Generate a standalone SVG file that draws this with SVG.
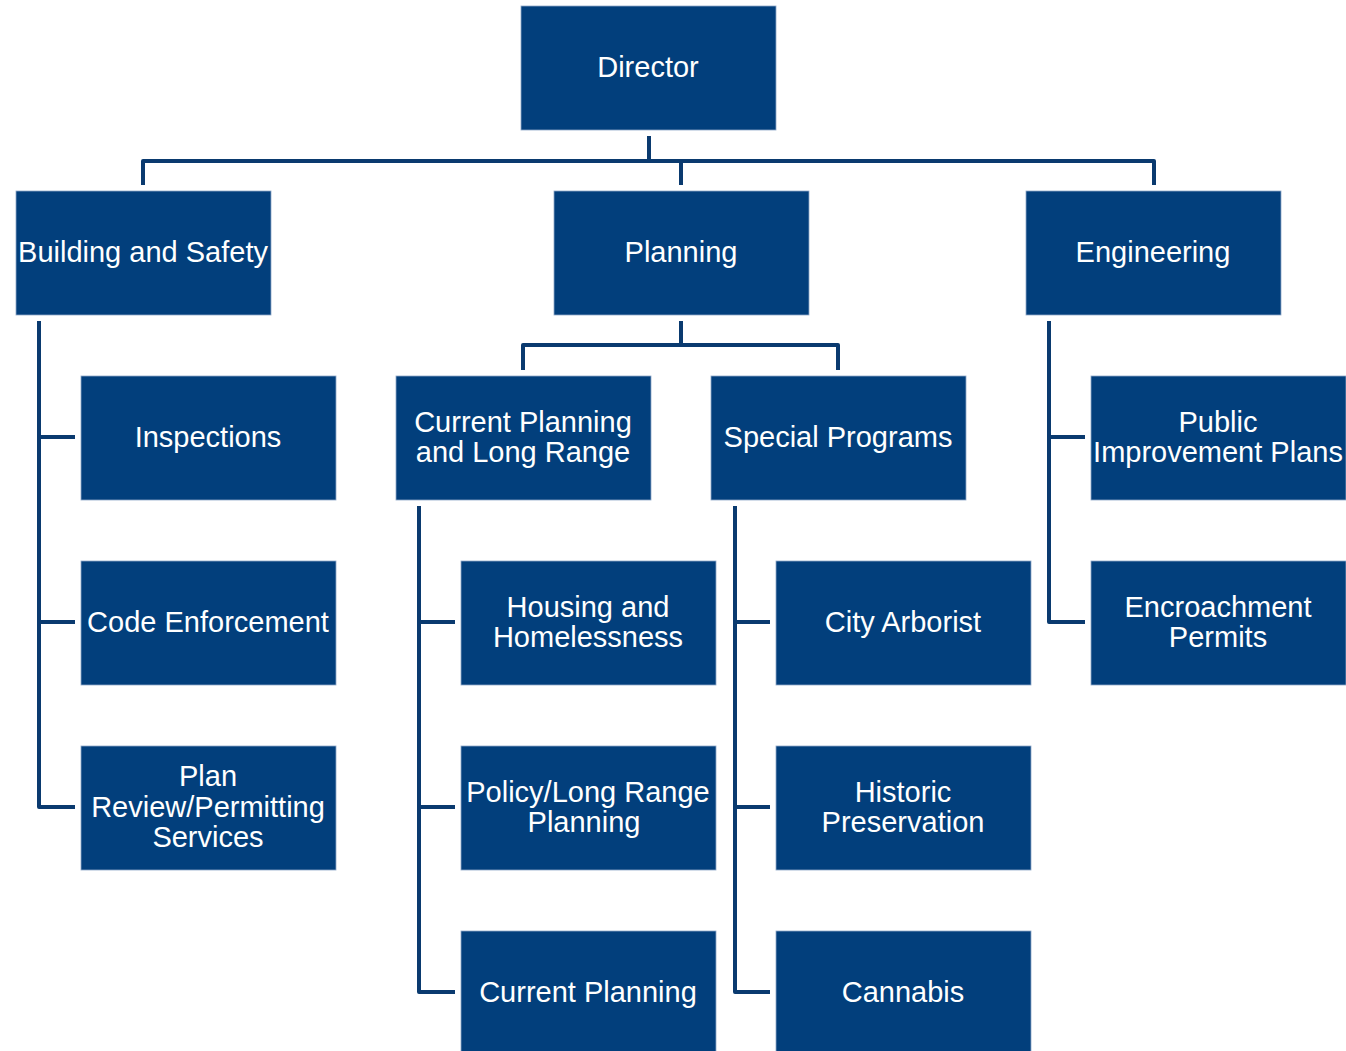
<svg xmlns="http://www.w3.org/2000/svg" width="1346" height="1051" viewBox="0 0 1346 1051">
<style>
.box{fill:#023f7c;stroke:#8fa9c8;stroke-width:0.8}
.t{font-family:"Liberation Sans",Arial,sans-serif;font-size:29px;fill:#ffffff;text-anchor:middle}
.c{fill:none;stroke:#0a3a6f;stroke-width:4;stroke-linejoin:round;stroke-linecap:butt}
</style>
<rect width="1346" height="1051" fill="#ffffff"/>
<g id="connectors">
<path class="c" d="M649,136 V161"/>
<path class="c" d="M143,185 V161 H1154 V185"/>
<path class="c" d="M681,161 V185"/>
<path class="c" d="M681,321 V345"/>
<path class="c" d="M523,370 V345 H838 V370"/>
<path class="c" d="M39,321 V807 H75"/>
<path class="c" d="M39,437 H75"/>
<path class="c" d="M39,622 H75"/>
<path class="c" d="M419,506 V992 H455"/>
<path class="c" d="M419,622 H455"/>
<path class="c" d="M419,807 H455"/>
<path class="c" d="M735,506 V992 H770"/>
<path class="c" d="M735,622 H770"/>
<path class="c" d="M735,807 H770"/>
<path class="c" d="M1049,321 V622 H1085"/>
<path class="c" d="M1049,437 H1085"/>
</g>
<g id="director"><rect class="box" x="521" y="6" width="255" height="124"/><text class="t" x="648" y="77">Director</text></g>
<g id="building"><rect class="box" x="16" y="191" width="255" height="124"/><text class="t" x="143" y="262">Building and Safety</text></g>
<g id="planning"><rect class="box" x="554" y="191" width="255" height="124"/><text class="t" x="681" y="262">Planning</text></g>
<g id="engineering"><rect class="box" x="1026" y="191" width="255" height="124"/><text class="t" x="1153" y="262">Engineering</text></g>
<g id="inspections"><rect class="box" x="81" y="376" width="255" height="124"/><text class="t" x="208" y="447">Inspections</text></g>
<g id="code-enforcement"><rect class="box" x="81" y="561" width="255" height="124"/><text class="t" x="208" y="632">Code Enforcement</text></g>
<g id="plan-review"><rect class="box" x="81" y="746" width="255" height="124"/><text class="t" x="208" y="786">Plan</text><text class="t" x="208" y="817">Review/Permitting</text><text class="t" x="208" y="847">Services</text></g>
<g id="current-long"><rect class="box" x="396" y="376" width="255" height="124"/><text class="t" x="523" y="432">Current Planning</text><text class="t" x="523" y="462">and Long Range</text></g>
<g id="special-programs"><rect class="box" x="711" y="376" width="255" height="124"/><text class="t" x="838" y="447">Special Programs</text></g>
<g id="public-improvement"><rect class="box" x="1091" y="376" width="255" height="124"/><text class="t" x="1218" y="432">Public</text><text class="t" x="1218" y="462">Improvement Plans</text></g>
<g id="encroachment"><rect class="box" x="1091" y="561" width="255" height="124"/><text class="t" x="1218" y="617">Encroachment</text><text class="t" x="1218" y="647">Permits</text></g>
<g id="housing"><rect class="box" x="461" y="561" width="255" height="124"/><text class="t" x="588" y="617">Housing and</text><text class="t" x="588" y="647">Homelessness</text></g>
<g id="policy"><rect class="box" x="461" y="746" width="255" height="124"/><text class="t" x="588" y="802">Policy/Long Range</text><text class="t" x="584" y="832">Planning</text></g>
<g id="current-planning"><rect class="box" x="461" y="931" width="255" height="124"/><text class="t" x="588" y="1002">Current Planning</text></g>
<g id="city-arborist"><rect class="box" x="776" y="561" width="255" height="124"/><text class="t" x="903" y="632">City Arborist</text></g>
<g id="historic"><rect class="box" x="776" y="746" width="255" height="124"/><text class="t" x="903" y="802">Historic</text><text class="t" x="903" y="832">Preservation</text></g>
<g id="cannabis"><rect class="box" x="776" y="931" width="255" height="124"/><text class="t" x="903" y="1002">Cannabis</text></g>
</svg>
